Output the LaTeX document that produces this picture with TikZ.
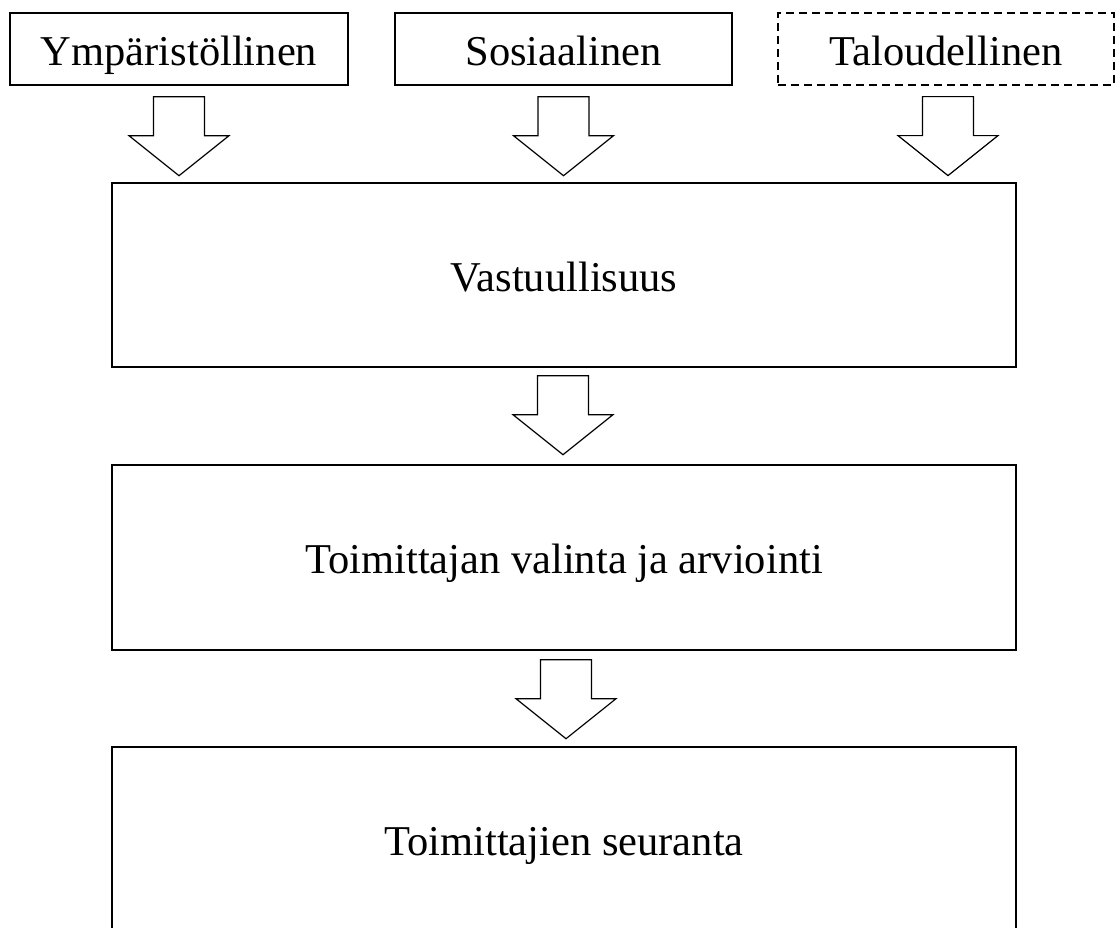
\documentclass[tikz,border=0pt]{standalone}
\usepackage{fontspec}
\setmainfont{Liberation Serif}
\usetikzlibrary{calc}
\tikzset{
  box/.style={draw, line width=1.4pt, inner sep=0pt, text height=34pt, text depth=2pt,
    font=\fontsize{42.5}{48}\selectfont},
  dashbox/.style={box, line width=1.2pt, dash pattern=on 8pt off 5pt},
  darrow/.pic={\draw[line width=1.2pt, line join=miter, fill=white]
     (-25.5,0) -- (25.5,0) -- (25.5,39) -- (50,39) -- (0,79) -- (-50,39) -- (-25.5,39) -- cycle;}
}
\begin{document}
\begin{tikzpicture}[x=1pt,y=-1pt]
\useasboundingbox (0,0) rectangle (1116,927);
\clip (0,0) rectangle (1116,927);
\node[box, minimum width=338pt, minimum height=72pt] (env) at (179,49) {Ympäristöllinen};
\node[box, minimum width=337pt, minimum height=72pt] (soc) at (563.5,49) {Sosiaalinen};
\node[dashbox, minimum width=336pt, minimum height=72pt] (eco) at (946,49) {Taloudellinen};
\node[box, minimum width=904pt, minimum height=184pt] (resp) at (564,275) {Vastuullisuus};
\node[box, minimum width=904pt, minimum height=185pt] (sel) at (564,557.5) {Toimittajan valinta ja arviointi};
\node[box, minimum width=904pt, minimum height=184pt] (mon) at (564,839) {Toimittajien seuranta};
\pic at ($(env.south)+(0,11)$) {darrow};
\pic at ($(soc.south)+(0,11)$) {darrow};
\pic at ($(eco.south)+(2,11)$) {darrow};
\pic at ($(resp.south)+(-1,8)$) {darrow};
\pic at ($(sel.south)+(2,9)$) {darrow};
\end{tikzpicture}
\end{document}
